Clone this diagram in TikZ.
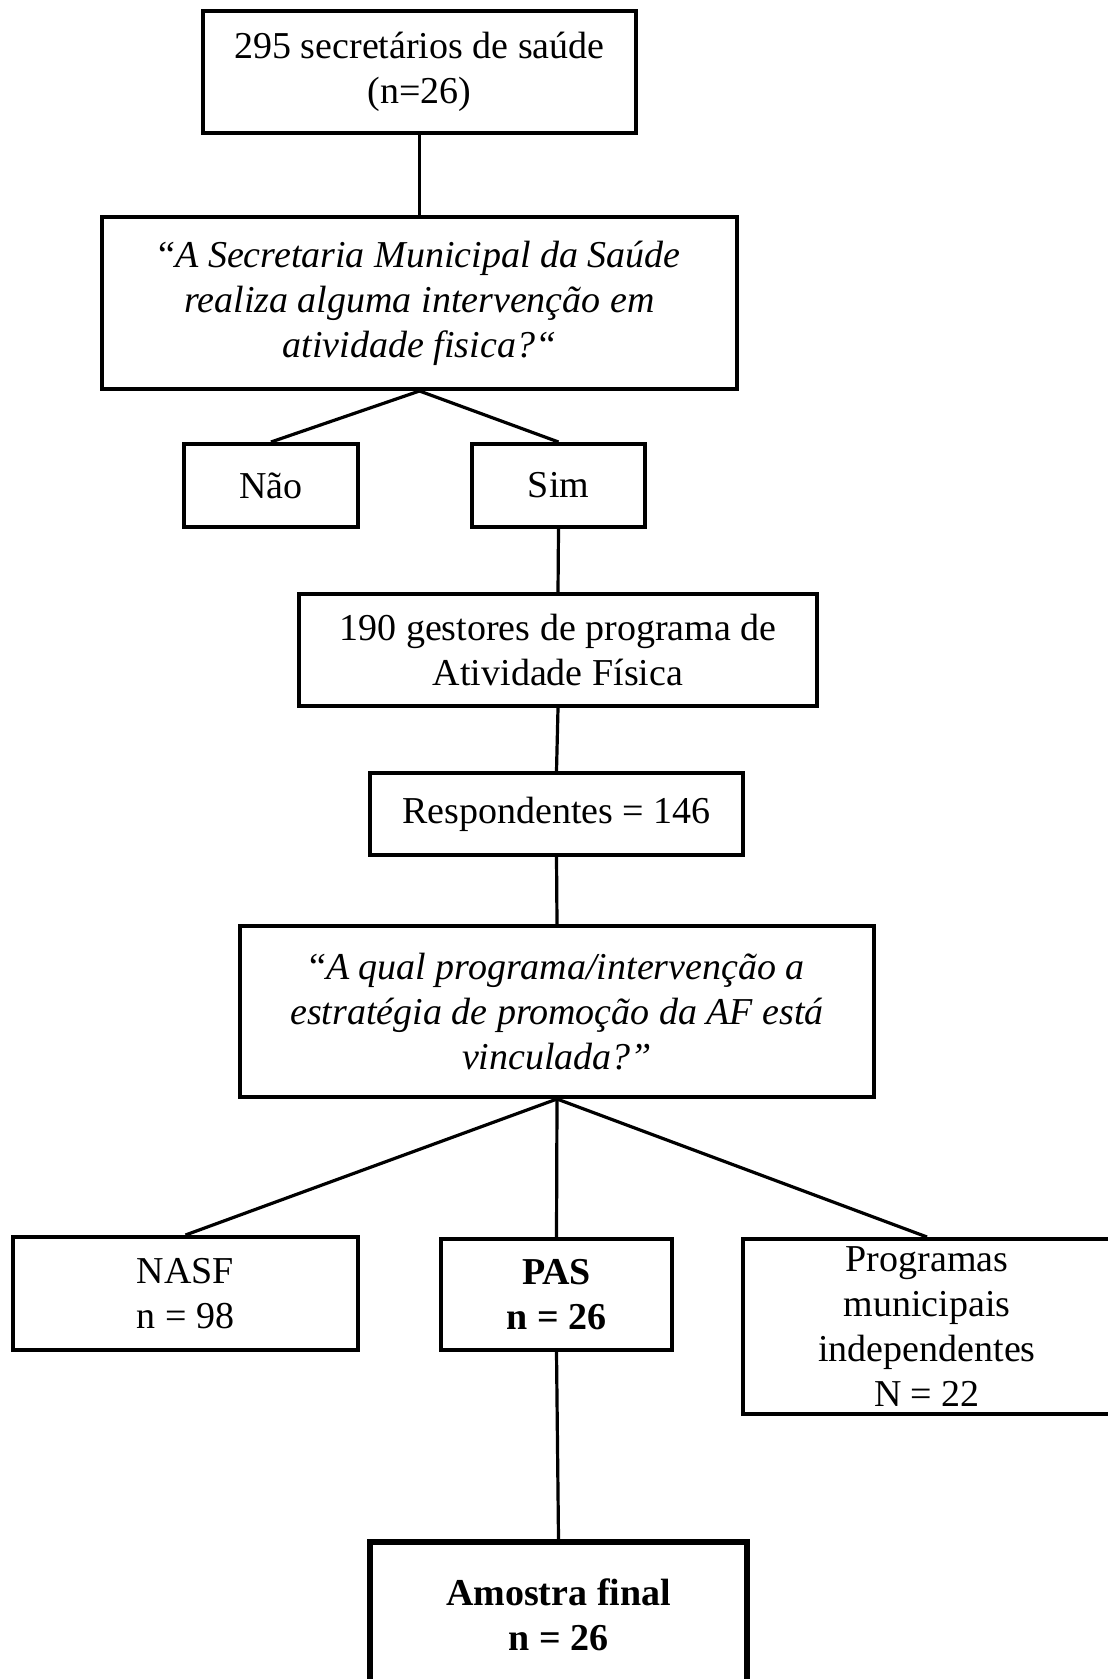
\documentclass[tikz,border=0pt]{standalone}
\usepackage{fontspec}
\setmainfont{Liberation Serif}
\usepackage{tikz}
\usetikzlibrary{positioning}

\begin{document}
\begin{tikzpicture}[
    x=0.5pt, y=-0.5pt,
    every node/.style={font=\fontsize{19pt}{22.5pt}\selectfont},
    bx/.style={rectangle, draw=black, line width=2pt, align=center,
        inner sep=0pt},
    qbx/.style={bx, font=\fontsize{19pt}{22.5pt}\selectfont\itshape},
    fbx/.style={bx, line width=3pt,
        font=\fontsize{19pt}{22.5pt}\selectfont\bfseries},
    te/.style={draw=black, line width=1.6pt},
]
    \useasboundingbox (0,0) rectangle (1107,1679);

    % Level 0
    \node[bx, minimum width=216.5pt, minimum height=61pt] (top) at (419.5,72)
        {295 secretários de saúde\\(n=26)};

    % Level 1
    \node[qbx, minimum width=317.5pt, minimum height=86pt] (q1) at (419.5,303)
        {\textup{“}A Secretaria Municipal da Saúde\\realiza alguma intervenção em\\atividade fisica?“};

    % Level 2
    \node[bx, minimum width=87pt, minimum height=41.5pt] (nao) at (271,485.5) {Não};
    \node[bx, minimum width=86.5pt, minimum height=41.5pt] (sim) at (558.5,485.5) {Sim};

    % Level 3
    \node[bx, minimum width=259pt, minimum height=56pt] (gest) at (558,650)
        {190 gestores de programa de\\Atividade Física};
    \node[bx, minimum width=186.5pt, minimum height=41pt] (resp) at (556.5,814)
        {Respondentes = 146};

    % Level 4
    \node[qbx, minimum width=317pt, minimum height=85.5pt] (q2) at (557,1011.5)
        {\textup{“}A qual programa/intervenção a\\estratégia de promoção da AF está\\vinculada?”};

    % Level 5
    \node[bx, minimum width=172.5pt, minimum height=56.5pt] (nasf) at (185.5,1293.5)
        {NASF\\n = 98};
    \node[bx, minimum width=115.5pt, minimum height=55.5pt] (pas) at (556.5,1294.5)
        {\textbf{PAS}\\\textbf{n = 26}};
    \node[bx, minimum width=184pt, minimum height=87.5pt] (prog) at (927,1326.5)
        {Programas\\municipais\\independentes\\N = 22};

    % Level 6
    \node[fbx, minimum width=188.5pt, minimum height=73pt] (amostra) at (558.5,1615)
        {Amostra final\\n = 26};

    % Edges
    \foreach \a/\b in {top/q1, q1/nao, q1/sim, sim/gest, gest/resp, resp/q2,
        q2/nasf, q2/pas, q2/prog, pas/amostra}
        \draw[te] (\a.south) -- (\b.north);
\end{tikzpicture}
\end{document}
